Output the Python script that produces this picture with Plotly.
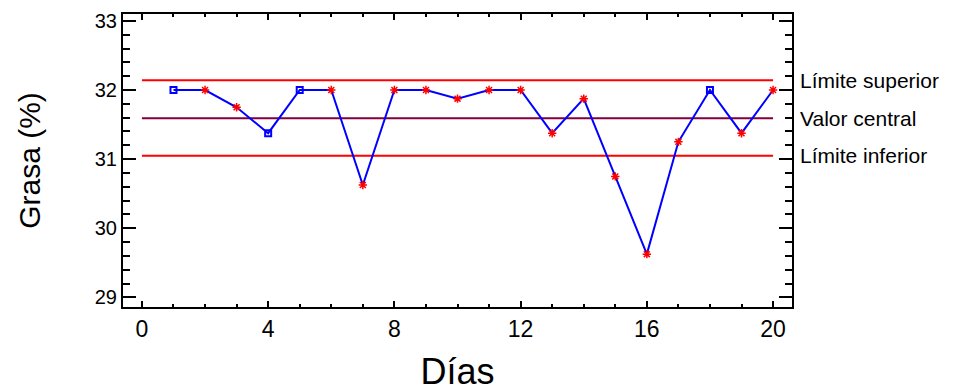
import plotly.graph_objects as go

dias = list(range(1, 21))
grasa = [32.0, 32.0, 31.75, 31.375, 32.0, 32.0, 30.625, 32.0, 32.0, 31.875,
         32.0, 32.0, 31.375, 31.875, 30.75, 29.625, 31.25, 32.0, 31.375, 32.0]
# marker type per point: 's' = in-control square, 'x' = flagged
flags = ['s', 'x', 'x', 's', 's', 'x', 'x', 'x', 'x', 'x',
         'x', 'x', 'x', 'x', 'x', 'x', 'x', 's', 'x', 'x']
lim_sup = 32.14
valor_central = 31.59
lim_inf = 31.05
linea_x = [0, 20]
x_ticks = [0, 4, 8, 12, 16, 20]
y_ticks = [29, 30, 31, 32, 33]
etiquetas = ["Límite superior", "Valor central", "Límite inferior"]

FONT = "Liberation Sans, Arial, sans-serif"

fig = go.Figure()
fig.add_trace(go.Scatter(x=linea_x, y=[lim_sup, lim_sup], mode="lines",
                         line=dict(color="#ff0000", width=2), hoverinfo="skip"))
fig.add_trace(go.Scatter(x=linea_x, y=[valor_central, valor_central], mode="lines",
                         line=dict(color="#800040", width=2), hoverinfo="skip"))
fig.add_trace(go.Scatter(x=linea_x, y=[lim_inf, lim_inf], mode="lines",
                         line=dict(color="#ff0000", width=2), hoverinfo="skip"))
fig.add_trace(go.Scatter(x=dias, y=grasa, mode="lines",
                         line=dict(color="#0000ff", width=2)))
sx = [d for d, f in zip(dias, flags) if f == 's']
sy = [g for g, f in zip(grasa, flags) if f == 's']
xx = [d for d, f in zip(dias, flags) if f == 'x']
xy = [g for g, f in zip(grasa, flags) if f == 'x']
fig.add_trace(go.Scatter(x=sx, y=sy, mode="markers",
                         marker=dict(symbol="square-open", size=6, color="#0000ff",
                                     line=dict(color="#0000ff", width=2))))
fig.add_trace(go.Scatter(x=xx, y=xy, mode="markers",
                         marker=dict(symbol="asterisk-open", size=7, color="#ff0000",
                                     line=dict(color="#ff0000", width=1.5))))

for txt, yv in zip(etiquetas, [lim_sup, valor_central, lim_inf]):
    fig.add_annotation(x=1, xref="paper", y=yv, yref="y", text=txt,
                       showarrow=False, xanchor="left", yanchor="middle",
                       xshift=6, font=dict(family=FONT, size=21, color="#000000"))

# page body has an 8px margin, so the figure is offset by 8px
fig.update_layout(
    width=959, height=384,
    margin=dict(l=115, r=175, t=2, b=85),
    paper_bgcolor="white", plot_bgcolor="white",
    showlegend=False,
    font=dict(family=FONT, color="#000000"),
)
fig.update_xaxes(
    range=[-0.6, 20.6], tickvals=x_ticks, ticks="inside", ticklen=6,
    tickwidth=2, tickcolor="black",
    minor=dict(dtick=1, tick0=0, ticks="inside", ticklen=3, tickwidth=1.5, tickcolor="black"),
    showline=True, linecolor="black", linewidth=2, mirror="allticks",
    showgrid=False, zeroline=False,
    tickfont=dict(family=FONT, size=23),
    title=dict(text="Días", font=dict(family=FONT, size=36), standoff=18),
)
fig.update_yaxes(
    range=[28.86, 33.1], tickvals=y_ticks, ticks="inside", ticklen=13,
    tickwidth=2, tickcolor="black",
    minor=dict(dtick=0.2, tick0=29, ticks="inside", ticklen=7, tickwidth=1.5, tickcolor="black"),
    showline=True, linecolor="black", linewidth=2, mirror="allticks",
    showgrid=False, zeroline=False, ticklabeloverflow="allow",
    tickfont=dict(family=FONT, size=20),
    title=dict(text="Grasa (%)", font=dict(family=FONT, size=30), standoff=45),
)

fig.write_html("out.html")
